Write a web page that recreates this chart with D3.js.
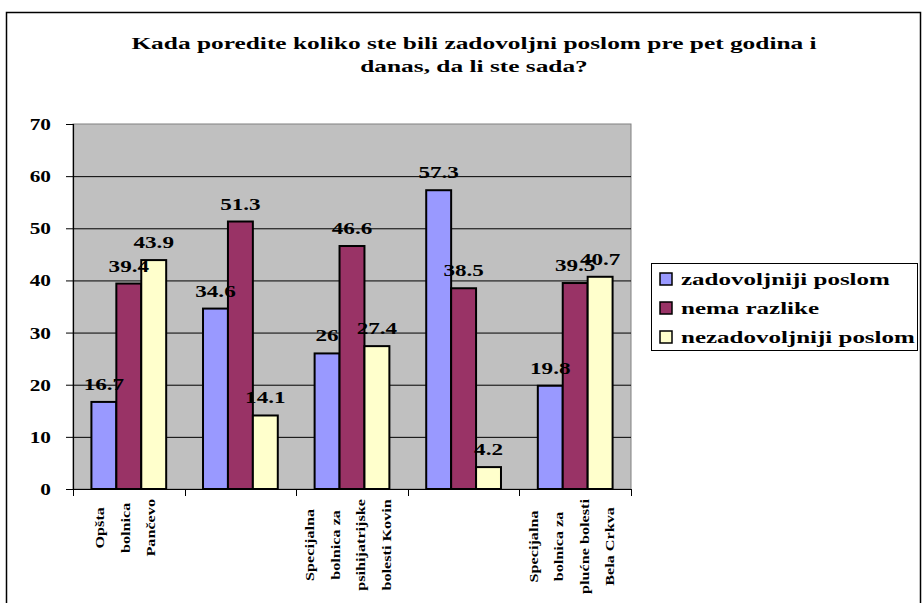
<!DOCTYPE html>
<html>
<head>
<meta charset="utf-8">
<style>
  body { margin: 0; background: #fff; }
  svg text { font-family: "Liberation Serif", "Times New Roman", serif; font-weight: bold; fill: #000; }
</style>
</head>
<body>
<svg width="922" height="603"></svg>
<script src="https://cdn.jsdelivr.net/npm/d3@7"></script>
<script>

// category label lines (groups 2 and 4 carry no label in the original)
var categories = [
  ["Opšta", "bolnica", "Pančevo"],
  [],
  ["Specijalna", "bolnica za", "psihijatrijske", "bolesti Kovin"],
  [],
  ["Specijalna", "bolnica za", "plućne bolesti", "Bela Crkva"]
];
var seriesNames = ["zadovoljniji poslom", "nema razlike", "nezadovoljniji poslom"];
var zadovoljniji = [16.7, 34.6, 26, 57.3, 19.8];
var nemaRazlike = [39.4, 51.3, 46.6, 38.5, 39.5];
var nezadovoljniji = [43.9, 14.1, 27.4, 4.2, 40.7];
var yTicks = [0, 10, 20, 30, 40, 50, 60, 70];
var colors = ["#9999FF", "#993366", "#FFFFCC"];
var title = ["Kada poredite koliko ste bili zadovoljni poslom pre pet godina i", "danas, da li ste sada?"];

var values = [zadovoljniji, nemaRazlike, nezadovoljniji];

var svg = d3.select("svg"),
    plot = {left: 73, right: 631, top: 124, bottom: 489};

// outer frame
svg.append("rect")
    .attr("x", 6.5).attr("y", 12.5)
    .attr("width", 914).attr("height", 600)
    .attr("fill", "#fff").attr("stroke", "#000").attr("stroke-width", 1.5);

// helper: horizontally stretched text (the original is drawn wide)
function wideText(parent, x, y, str, size, stretch, anchor) {
  return parent.append("g")
      .attr("transform", "translate(" + x + "," + y + ")")
    .append("text")
      .attr("transform", "scale(" + stretch + ",1)")
      .attr("font-size", size)
      .attr("text-anchor", anchor || "middle")
      .text(str);
}

// title
title.forEach(function(t, i) {
  wideText(svg, 474, 49 + i * 23, t, 17.5, 1.45);
});

var x = d3.scaleBand()
    .domain(d3.range(categories.length))
    .range([plot.left, plot.right])
    .paddingInner(0.33)
    .paddingOuter(0.165);

var x1 = d3.scaleBand()
    .domain(d3.range(seriesNames.length))
    .range([0, x.bandwidth()]);

var y = d3.scaleLinear()
    .domain([0, 70])
    .range([plot.bottom, plot.top]);

// plot area
svg.append("rect")
    .attr("x", plot.left).attr("y", plot.top)
    .attr("width", plot.right - plot.left).attr("height", plot.bottom - plot.top)
    .attr("fill", "#C0C0C0").attr("stroke", "#808080").attr("stroke-width", 1);

// gridlines
svg.append("g")
  .selectAll("line")
  .data(yTicks.filter(function(d) { return d > 0 && d < 70; }))
  .enter().append("line")
    .attr("x1", plot.left).attr("x2", plot.right)
    .attr("y1", function(d) { return y(d) + 0.5; })
    .attr("y2", function(d) { return y(d) + 0.5; })
    .attr("stroke", "#000").attr("stroke-width", 1);

// y axis
var yAxis = svg.append("g")
    .attr("transform", "translate(" + plot.left + ",0)")
    .call(d3.axisLeft(y).tickValues(yTicks).tickSize(7).tickPadding(0).tickFormat(function() { return ""; }));
yAxis.select(".domain").attr("stroke", "#000").attr("stroke-width", 1.2);
yAxis.selectAll(".tick line").attr("stroke", "#000");
yTicks.forEach(function(t) {
  wideText(svg, 51, y(t) + 6, String(t), 16, 1.33, "end");
});

// x axis with ticks at band boundaries
var bounds = d3.range(categories.length).map(function(i) { return x(i) - x.step() * x.paddingInner() / 2; });
bounds[0] = plot.left;
bounds.push(plot.right);
svg.append("line")
    .attr("x1", plot.left).attr("x2", plot.right)
    .attr("y1", plot.bottom + 0.5).attr("y2", plot.bottom + 0.5)
    .attr("stroke", "#000").attr("stroke-width", 1.2);
svg.append("g")
  .selectAll("line")
  .data(bounds)
  .enter().append("line")
    .attr("x1", function(d) { return Math.round(d) + 0.5; })
    .attr("x2", function(d) { return Math.round(d) + 0.5; })
    .attr("y1", plot.bottom).attr("y2", plot.bottom + 7)
    .attr("stroke", "#000");

// bars
var groups = svg.append("g")
  .selectAll("g")
  .data(categories)
  .enter().append("g")
    .attr("transform", function(d, i) { return "translate(" + x(i) + ",0)"; });

groups.selectAll("rect")
  .data(function(d, i) { return values.map(function(v, s) { return {s: s, v: v[i]}; }); })
  .enter().append("rect")
    .attr("x", function(d) { return x1(d.s); })
    .attr("y", function(d) { return y(d.v); })
    .attr("width", x1.bandwidth())
    .attr("height", function(d) { return plot.bottom - y(d.v); })
    .attr("fill", function(d) { return colors[d.s]; })
    .attr("stroke", "#000").attr("stroke-width", 2);

// value labels
categories.forEach(function(c, i) {
  values.forEach(function(v, s) {
    wideText(svg, x(i) + x1(s) + x1.bandwidth() / 2, y(v[i]) - 12, String(v[i]), 17, 1.36);
  });
});

// category labels, rotated, lines centred on the longest line
var labelStretch = 1.2;
categories.forEach(function(lines, i) {
  if (!lines.length) return;
  var cx = x(i) + x.bandwidth() / 2 - 4;
  var texts = lines.map(function(line, k) {
    return svg.append("text")
      .attr("font-size", 13.5)
      .attr("text-anchor", "middle")
      .attr("dy", "0.35em")
      .text(line)
      .datum({k: k, x: cx + (k - (lines.length - 1) / 2) * 25.5});
  });
  var maxLen = d3.max(texts, function(t) { return t.node().getComputedTextLength(); }) * labelStretch;
  var cy = 499 + maxLen / 2;
  texts.forEach(function(t) {
    t.attr("transform", "translate(" + t.datum().x + "," + cy + ") rotate(-90) scale(" + labelStretch + ",1)");
  });
});

// legend
var legend = svg.append("g");
legend.append("rect")
    .attr("x", 651.5).attr("y", 263.5)
    .attr("width", 266).attr("height", 87)
    .attr("fill", "#fff").attr("stroke", "#000").attr("stroke-width", 1);
seriesNames.forEach(function(name, s) {
  var ly = 279 + s * 29;
  legend.append("rect")
      .attr("x", 660).attr("y", ly - 6)
      .attr("width", 12).attr("height", 12)
      .attr("fill", colors[s]).attr("stroke", "#000").attr("stroke-width", 1.5);
  wideText(legend, 681, ly + 6, name, 17, 1.47, "start");
});

</script>
</body>
</html>
